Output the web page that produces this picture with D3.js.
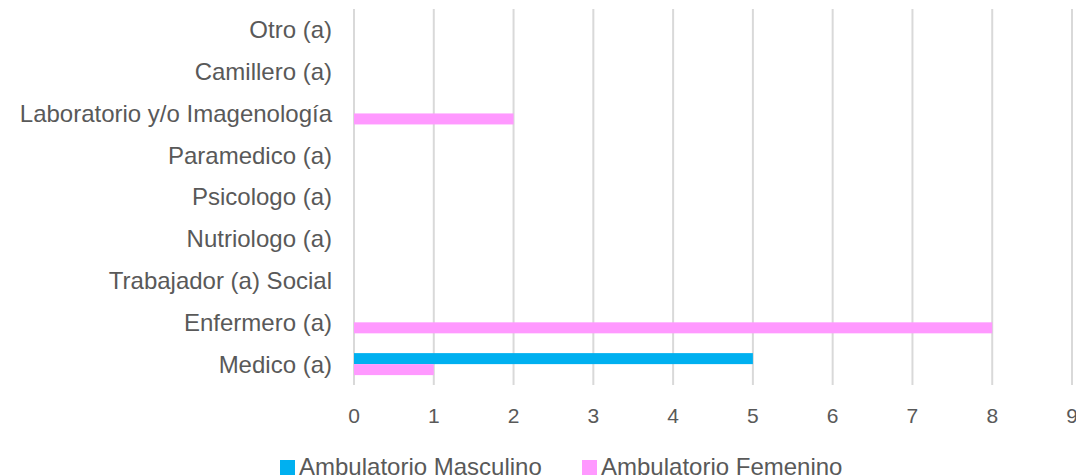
<!DOCTYPE html>
<html>
<head>
<meta charset="utf-8">
<script src="https://cdn.jsdelivr.net/npm/d3@7"></script>
<style>
  html, body { margin: 0; padding: 0; background: #fff; }
  svg { display: block; font-family: "Liberation Sans", Arial, sans-serif; }
</style>
</head>
<body>
<svg id="chart" width="1076" height="476"></svg>
<script>
// Personnel categories (bottom to top) and counts per series
const categories = [
  "Medico (a)",
  "Enfermero (a)",
  "Trabajador (a) Social",
  "Nutriologo (a)",
  "Psicologo (a)",
  "Paramedico (a)",
  "Laboratorio y/o Imagenología",
  "Camillero (a)",
  "Otro (a)"
];
const seriesNames = ["Ambulatorio Masculino", "Ambulatorio Femenino"];
const masculino = [5, 0, 0, 0, 0, 0, 0, 0, 0];
const femenino  = [1, 8, 0, 0, 0, 0, 2, 0, 0];
const xTicks = [0, 1, 2, 3, 4, 5, 6, 7, 8, 9];
const colors = ["#00B0F0", "#FF99FF"];

const svg = d3.select("#chart");
const textColor = "#595959";

const plot = { left: 354, right: 1072, top: 9, bottom: 385 };

const x = d3.scaleLinear().domain([0, 9]).range([plot.left, plot.right]);
const y = d3.scaleBand().domain(categories).range([plot.bottom, plot.top]).padding(0);
const sub = d3.scaleBand().domain([0, 1]).range([0, y.bandwidth()])
  .paddingInner(0).paddingOuter(0.9);

// vertical gridlines
svg.append("g").selectAll("line").data(xTicks).join("line")
  .attr("x1", d => x(d)).attr("x2", d => x(d))
  .attr("y1", plot.top).attr("y2", plot.bottom)
  .attr("stroke", "#D9D9D9").attr("stroke-width", 2);

// x tick labels
svg.append("g").selectAll("text").data(xTicks).join("text")
  .attr("x", d => x(d)).attr("y", 423)
  .attr("text-anchor", "middle")
  .attr("font-size", 21).attr("fill", textColor)
  .text(d => d);

// category labels
svg.append("g").selectAll("text").data(categories).join("text")
  .attr("x", plot.left - 22)
  .attr("y", d => y(d) + y.bandwidth() / 2)
  .attr("dy", "0.35em")
  .attr("text-anchor", "end")
  .attr("font-size", 24).attr("fill", textColor)
  .text(d => d);

// bars
const series = [masculino, femenino];
const rows = categories.map((c, i) => ({ cat: c, vals: series.map(s => s[i]) }));
const groups = svg.append("g").selectAll("g").data(rows).join("g")
  .attr("transform", d => `translate(0,${y(d.cat)})`);
groups.selectAll("rect").data(d => d.vals.map((v, k) => ({ v, k }))).join("rect")
  .attr("x", x(0))
  .attr("y", d => sub(d.k))
  .attr("width", d => x(d.v) - x(0))
  .attr("height", sub.bandwidth())
  .attr("fill", d => colors[d.k]);

// legend
const legendX = [280, 582];
const legend = svg.append("g").selectAll("g").data(seriesNames).join("g")
  .attr("transform", (d, i) => `translate(${legendX[i]},0)`);
legend.append("rect")
  .attr("x", 0).attr("y", 460).attr("width", 15).attr("height", 15)
  .attr("fill", (d, i) => colors[i]);
legend.append("text")
  .attr("x", 19).attr("y", 475)
  .attr("font-size", 24).attr("fill", textColor)
  .text(d => d);
</script>
</body>
</html>
